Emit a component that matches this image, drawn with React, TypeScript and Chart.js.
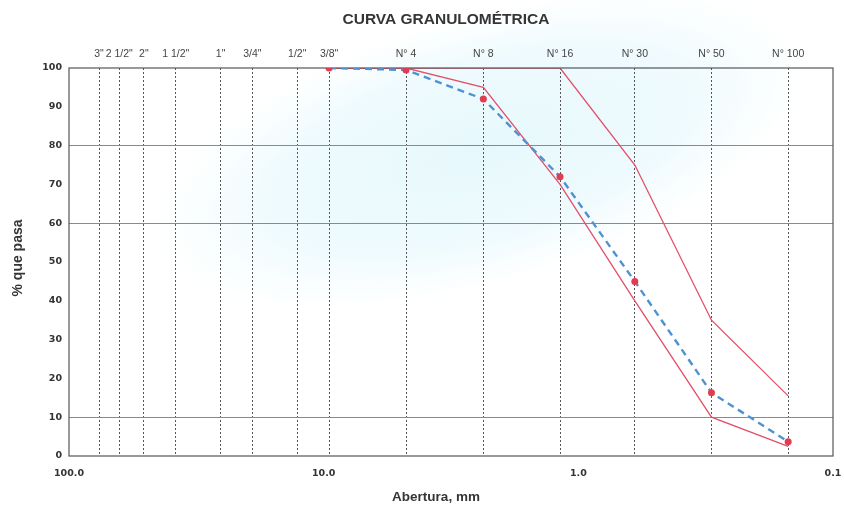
import React, { useEffect, useRef } from 'react';
import { Chart, registerables } from 'chart.js';

Chart.register(...registerables);

// Sieves shown on the top axis (opening in mm)
const sieveLabels = ['3"', '2 1/2"', '2"', '1 1/2"', '1"', '3/4"', '1/2"', '3/8"', 'N° 4', 'N° 8', 'N° 16', 'N° 30', 'N° 50', 'N° 100'];
const sieveSizes = [76.2, 63.5, 50.8, 38.1, 25.4, 19.05, 12.7, 9.525, 4.75, 2.36, 1.18, 0.6, 0.3, 0.15];

// Sieves used by the gradation curves
const testSizes = [9.525, 4.75, 2.36, 1.18, 0.6, 0.3, 0.15];
const samplePassing = [100, 99.5, 92, 72, 45, 16.3, 3.7];
const lowerLimit = [100, 100, 95, 70, 40, 10, 2.5];
const upperLimit = [100, 100, 100, 100, 75, 35, 15.5];

// Bottom axis
const bottomTicks = [100, 10, 1, 0.1];
const bottomTickLabels = ['100.0', '10.0', '1.0', '0.1'];

// Y axis
const yMin = 0;
const yMax = 100;
const yStep = 10;
const yGridShown = [10, 60, 80];

const chartTitle = 'CURVA GRANULOMÉTRICA';
const yTitle = '% que pasa';
const xTitle = 'Abertura, mm';

const RED = '#e2506a';
const BLUE = '#4d92d2';
const MARK = '#e23c50';

const toPoints = (xs: number[], ys: number[]) => xs.map((x, i) => ({ x, y: ys[i] }));

const zeroPad = (axis: any) => {
  axis.paddingLeft = 0;
  axis.paddingRight = 0;
  axis.paddingTop = 0;
  axis.paddingBottom = 0;
};

const decor = {
  id: 'decor',
  beforeDraw(chart: any) {
    const { ctx, width, height } = chart;
    ctx.save();
    ctx.fillStyle = '#ffffff';
    ctx.fillRect(0, 0, width, height);
    // faint, diffuse watermark tint of the scanned sheet
    ctx.translate(480, 150);
    ctx.rotate(-0.28);
    ctx.scale(1, 0.4);
    const g = ctx.createRadialGradient(0, 0, 0, 0, 0, 340);
    g.addColorStop(0, 'rgba(222, 246, 251, 0.75)');
    g.addColorStop(0.65, 'rgba(226, 247, 252, 0.55)');
    g.addColorStop(1, 'rgba(235, 250, 253, 0)');
    ctx.fillStyle = g;
    ctx.beginPath();
    ctx.arc(0, 0, 340, 0, Math.PI * 2);
    ctx.fill();
    ctx.restore();
  },
  beforeDatasetDraw(chart: any, args: any) {
    if (args.index !== 2) return;
    const { ctx, chartArea } = chart;
    ctx.save();
    ctx.strokeStyle = '#555555';
    ctx.lineWidth = 1.2;
    ctx.strokeRect(chartArea.left, chartArea.top, chartArea.right - chartArea.left, chartArea.bottom - chartArea.top);
    ctx.restore();
  },
  afterDraw(chart: any) {
    const { ctx } = chart;
    ctx.save();
    ctx.fillStyle = '#353535';
    ctx.textAlign = 'center';
    ctx.textBaseline = 'middle';
    ctx.font = 'bold 15.5px "Liberation Sans", Arial, sans-serif';
    ctx.fillText(chartTitle, 446, 20);
    ctx.font = 'bold 13.5px "Liberation Sans", Arial, sans-serif';
    ctx.fillText(xTitle, 436, 497);
    ctx.translate(18, 258);
    ctx.rotate(-Math.PI / 2);
    ctx.font = 'bold 14px "Liberation Sans", Arial, sans-serif';
    ctx.fillText(yTitle, 0, 0);
    ctx.restore();
  },
};

export default function App() {
  const canvasRef = useRef<HTMLCanvasElement | null>(null);

  useEffect(() => {
    if (!canvasRef.current) return;
    const chart = new Chart(canvasRef.current, {
      type: 'line',
      data: {
        datasets: [
          {
            label: 'Límite inferior',
            data: toPoints(testSizes, lowerLimit),
            borderColor: RED,
            borderWidth: 1.3,
            pointRadius: 0,
            fill: false,
            tension: 0,
            order: 1,
            xAxisID: 'x',
            yAxisID: 'y',
          },
          {
            label: 'Límite superior',
            data: toPoints(testSizes, upperLimit),
            borderColor: RED,
            borderWidth: 1.3,
            pointRadius: 0,
            fill: false,
            tension: 0,
            order: 1,
            xAxisID: 'x',
            yAxisID: 'y',
          },
          {
            label: 'Muestra',
            data: toPoints(testSizes, samplePassing),
            borderColor: BLUE,
            borderWidth: 2.4,
            borderDash: [7, 5],
            pointRadius: 3.5,
            pointBackgroundColor: MARK,
            pointBorderColor: MARK,
            pointBorderWidth: 0,
            fill: false,
            tension: 0,
            order: 0,
            xAxisID: 'x',
            yAxisID: 'y',
          },
        ],
      },
      options: {
        animation: false,
        responsive: true,
        maintainAspectRatio: false,
        layout: { padding: { left: 0, right: 11, top: 0, bottom: 0 } },
        plugins: {
          legend: { display: false },
          title: { display: false },
          tooltip: { enabled: false },
        },
        scales: {
          x: {
            type: 'logarithmic',
            position: 'bottom',
            reverse: true,
            min: 0.1,
            max: 100,
            afterBuildTicks: (axis: any) => {
              axis.ticks = bottomTicks.map((v) => ({ value: v }));
            },
            afterFit: (axis: any) => {
              axis.height = 52;
              zeroPad(axis);
            },
            grid: { display: false, drawTicks: false },
            border: { display: false },
            ticks: {
              autoSkip: false,
              maxRotation: 0,
              padding: 12,
              color: '#333333',
              font: { family: '"DejaVu Sans", sans-serif', size: 9.5, weight: 'bold' },
              callback: (_v: any, i: number) => bottomTickLabels[i],
            },
          },
          x2: {
            type: 'logarithmic',
            position: 'top',
            reverse: true,
            min: 0.1,
            max: 100,
            afterBuildTicks: (axis: any) => {
              axis.ticks = sieveSizes.map((v) => ({ value: v }));
            },
            afterFit: (axis: any) => {
              axis.height = 68;
              zeroPad(axis);
            },
            grid: { display: true, color: '#555555', lineWidth: 1, drawTicks: false },
            border: { display: false, dash: [2, 2] },
            ticks: {
              autoSkip: false,
              maxRotation: 0,
              padding: 8,
              color: '#444444',
              font: { family: '"Liberation Sans", Arial, sans-serif', size: 10.5 },
              callback: (_v: any, i: number) => sieveLabels[i],
            },
          },
          y: {
            type: 'linear',
            position: 'left',
            min: yMin,
            max: yMax,
            afterFit: (axis: any) => {
              axis.width = 69;
              zeroPad(axis);
            },
            grid: {
              drawTicks: false,
              lineWidth: 1,
              color: (c: any) => (yGridShown.includes(c.tick?.value) ? '#8a8a8a' : 'rgba(0,0,0,0)'),
            },
            border: { display: false },
            ticks: {
              stepSize: yStep,
              padding: 7,
              color: '#333333',
              font: { family: '"DejaVu Sans", sans-serif', size: 9.5, weight: 'bold' },
            },
          },
        },
      } as any,
      plugins: [decor],
    });
    return () => chart.destroy();
  }, []);

  return (
    <div style={{ position: 'fixed', left: 0, top: 0, width: 844, height: 508 }}>
      <canvas ref={canvasRef} />
    </div>
  );
}
